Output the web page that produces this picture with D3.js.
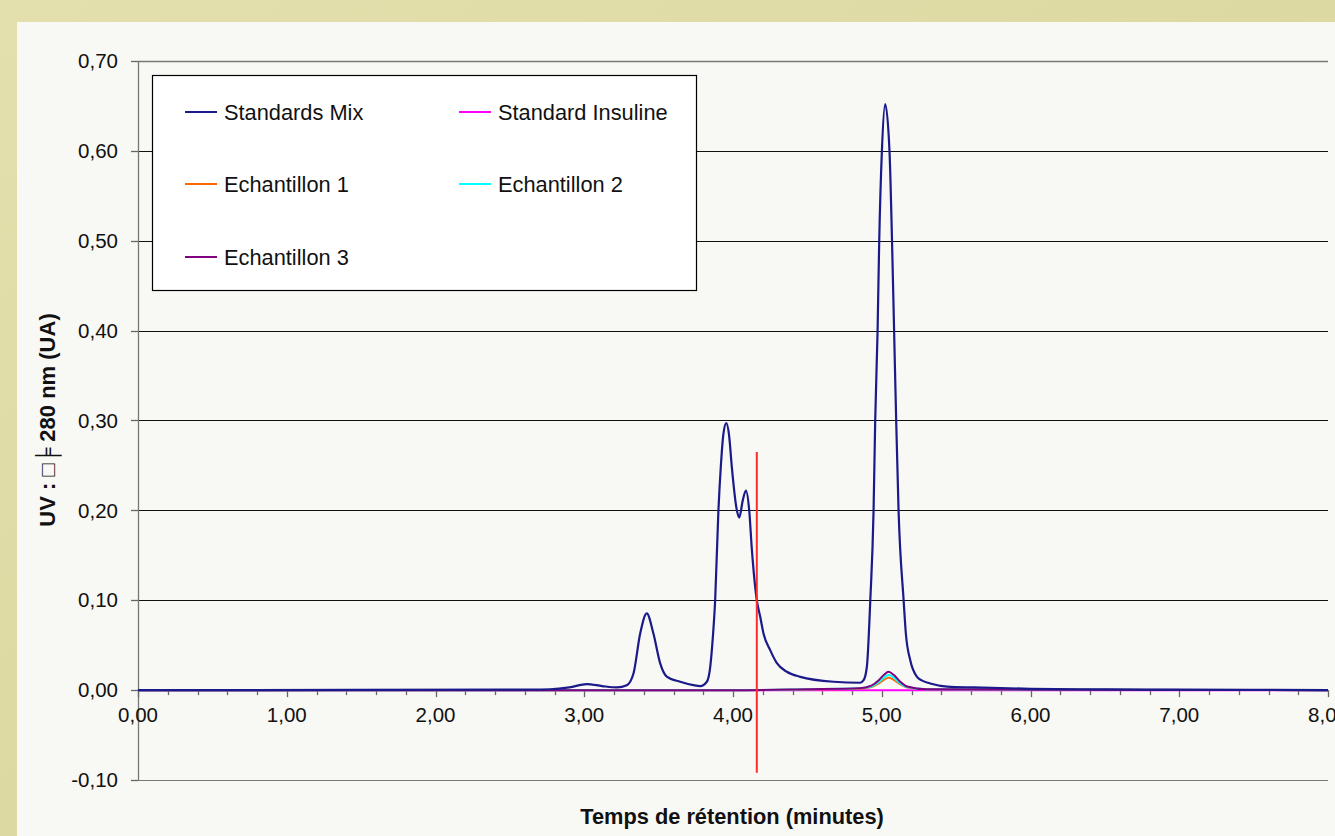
<!DOCTYPE html>
<html>
<head>
<meta charset="utf-8">
<script src="https://cdn.jsdelivr.net/npm/d3@7"></script>
<style>
  html, body { margin: 0; padding: 0; background: #e2dfac; }
  svg { display: block; }
  text { font-family: "Liberation Sans", Arial, sans-serif; fill: #111; }
</style>
</head>
<body>
<svg id="chart" width="1335" height="836"></svg>
<script>
// ---------- DATA ----------
const seriesNames = ["Standards Mix", "Standard Insuline", "Echantillon 1", "Echantillon 2", "Echantillon 3"];
const seriesColors = ["#1a1a8a", "#ff00ff", "#ff6a00", "#00ffff", "#800080"];

const mixTime = [0, 2.5, 2.77, 2.9, 3.017, 3.12, 3.22, 3.286, 3.331, 3.376,
  3.42, 3.465, 3.51, 3.555, 3.645, 3.734, 3.78, 3.824, 3.847, 3.865,
  3.88, 3.902, 3.918, 3.936, 3.955, 3.974, 3.992, 4.026, 4.042, 4.066,
  4.087, 4.109, 4.127, 4.16, 4.183, 4.205, 4.25, 4.295, 4.362, 4.452,
  4.676, 4.855, 4.878, 4.90, 4.923, 4.945, 4.956, 4.972, 4.983, 5.001,
  5.023, 5.052, 5.069, 5.083, 5.097, 5.113, 5.147, 5.162, 5.192, 5.237,
  5.28, 5.326, 5.44, 5.62, 6.0, 6.5, 7.0, 8.0];
const mixValue = [0, 0.0005, 0.001, 0.003, 0.0067, 0.0045, 0.003, 0.0055, 0.0185, 0.063,
  0.0854, 0.063, 0.030, 0.015, 0.0093, 0.0055, 0.0045, 0.0093, 0.026, 0.06,
  0.10, 0.20, 0.2485, 0.2857, 0.297, 0.283, 0.2485, 0.20, 0.192, 0.2114,
  0.222, 0.20, 0.156, 0.10, 0.0816, 0.063, 0.0445, 0.030, 0.0204, 0.0148,
  0.0093, 0.0082, 0.011, 0.026, 0.10, 0.20, 0.30, 0.40, 0.50, 0.60,
  0.652, 0.60, 0.50, 0.40, 0.30, 0.20, 0.10, 0.063, 0.033, 0.0148,
  0.010, 0.0074, 0.004, 0.003, 0.0015, 0.0008, 0.0005, 0];

const sampleTime = [0, 4.0, 4.5, 4.85, 4.93, 4.98, 5.015, 5.046, 5.08, 5.12, 5.17, 5.3, 6.0, 8.0];
const insulineValue = [0, 0, 0, 0, 0, 0, 0, 0, 0, 0, 0, 0, 0, 0];
const ech1Value = [0, 0, 0.0008, 0.0015, 0.0035, 0.0075, 0.0115, 0.0137, 0.0115, 0.0068, 0.003, 0.001, 0.0005, 0];
const ech2Value = [0, 0, 0.001, 0.002, 0.004, 0.009, 0.014, 0.0167, 0.014, 0.008, 0.0035, 0.001, 0.0005, 0];
const ech3Value = [0, 0, 0.001, 0.002, 0.005, 0.011, 0.017, 0.0204, 0.017, 0.010, 0.004, 0.001, 0.0005, 0];

const markerTime = 4.16;
const markerRange = [0.265, -0.092];

const yTicks = [-0.10, 0, 0.10, 0.20, 0.30, 0.40, 0.50, 0.60, 0.70];
const xTicks = [0, 1, 2, 3, 4, 5, 6, 7, 8];
const xMinorTicks = d3.range(0, 8.0001, 0.2);

const xTitle = "Temps de rétention (minutes)";
const yTitle = "UV : \u25A1\u255E 280 nm (UA)";

// ---------- LAYOUT ----------
const svg = d3.select("#chart");
const W = 1335, H = 836;
const plot = { left: 138, right: 1328, top: 61, bottom: 780 };

const locale = d3.formatLocale({ decimal: ",", thousands: " ", grouping: [3], currency: ["", "€"], minus: "-" });
const fmt = locale.format(".2f");

const x = d3.scaleLinear().domain([0, 8]).range([plot.left, plot.right]);
const y = d3.scaleLinear().domain([-0.10, 0.70]).range([plot.bottom, plot.top]);

// background
const defs = svg.append("defs");
const bg = defs.append("linearGradient").attr("id", "bg").attr("x1", 0).attr("y1", 0).attr("x2", 1).attr("y2", 1);
bg.append("stop").attr("offset", "0%").attr("stop-color", "#e4e0ae");
bg.append("stop").attr("offset", "50%").attr("stop-color", "#dcd9a2");
bg.append("stop").attr("offset", "100%").attr("stop-color", "#e6e2b4");
svg.append("rect").attr("width", W).attr("height", H).attr("fill", "url(#bg)");
svg.append("rect").attr("x", 17).attr("y", 22).attr("width", W - 17).attr("height", H - 22).attr("fill", "#f8f8f4");

// gridlines
svg.append("g").selectAll("line").data(yTicks).join("line")
  .attr("x1", plot.left).attr("x2", plot.right)
  .attr("y1", d => Math.round(y(d)) + 0.5).attr("y2", d => Math.round(y(d)) + 0.5)
  .attr("stroke", d => (d > 0.65 || d < -0.05 || d === 0) ? "#777" : "#111")
  .attr("stroke-width", d => (d > 0.65) ? 1.6 : 1.1);

// y axis line
svg.append("line").attr("x1", plot.left + 0.5).attr("x2", plot.left + 0.5)
  .attr("y1", plot.top).attr("y2", plot.bottom).attr("stroke", "#777").attr("stroke-width", 1.3);

// y ticks + labels
const yAxis = svg.append("g");
yAxis.selectAll("line").data(yTicks).join("line")
  .attr("x1", plot.left - 7).attr("x2", plot.left)
  .attr("y1", d => Math.round(y(d)) + 0.5).attr("y2", d => Math.round(y(d)) + 0.5)
  .attr("stroke", "#666").attr("stroke-width", 1.3);
yAxis.selectAll("text").data(yTicks).join("text")
  .attr("x", 118).attr("y", d => y(d)).attr("dy", "0.35em")
  .attr("text-anchor", "end").attr("font-size", 20.5)
  .text(d => fmt(d));

// x ticks (at y=0)
const xAxis = svg.append("g");
xAxis.selectAll("line.minor").data(xMinorTicks).join("line")
  .attr("class", "minor")
  .attr("x1", d => Math.round(x(d)) + 0.5).attr("x2", d => Math.round(x(d)) + 0.5)
  .attr("y1", y(0)).attr("y2", d => y(0) + (Math.abs(d - Math.round(d)) < 1e-6 ? 7 : 5))
  .attr("stroke", "#666").attr("stroke-width", 1.3);
xAxis.selectAll("text").data(xTicks).join("text")
  .attr("x", d => x(d)).attr("y", y(0) + 32)
  .attr("text-anchor", "middle").attr("font-size", 20.5)
  .text(d => fmt(d));

// series
const line = d3.line().x(d => x(d[0])).y(d => y(d[1])).curve(d3.curveMonotoneX);
const zip = (t, v) => t.map((tt, i) => [tt, v[i]]);
const seriesData = [
  zip(mixTime, mixValue),
  zip(sampleTime, insulineValue),
  zip(sampleTime, ech1Value),
  zip(sampleTime, ech2Value),
  zip(sampleTime, ech3Value)
];
const drawOrder = [1, 2, 3, 4, 0];
svg.append("g").selectAll("path").data(drawOrder).join("path")
  .attr("d", i => line(seriesData[i]))
  .attr("fill", "none")
  .attr("stroke", i => seriesColors[i])
  .attr("stroke-width", i => i === 0 ? 2.2 : 2)
  .attr("stroke-linejoin", "round");

// red marker
svg.append("line")
  .attr("x1", x(markerTime)).attr("x2", x(markerTime))
  .attr("y1", y(markerRange[0])).attr("y2", y(markerRange[1]))
  .attr("stroke", "#ff2a2a").attr("stroke-width", 2);

// legend
const lg = svg.append("g");
lg.append("rect").attr("x", 152.5).attr("y", 75.5).attr("width", 544).attr("height", 215)
  .attr("fill", "#ffffff").attr("stroke", "#000").attr("stroke-width", 1.2);
const legendPos = [[185, 112], [459, 112], [185, 184], [459, 184], [185, 257]];
seriesNames.forEach((name, i) => {
  const [lx, ly] = legendPos[i];
  lg.append("line").attr("x1", lx).attr("x2", lx + 32).attr("y1", ly).attr("y2", ly)
    .attr("stroke", seriesColors[i]).attr("stroke-width", 2);
  lg.append("text").attr("x", lx + 39).attr("y", ly).attr("dy", "0.36em")
    .attr("font-size", 21.8).text(name);
});

// titles
svg.append("text").attr("x", 732).attr("y", 816).attr("dy", "0.35em")
  .attr("text-anchor", "middle").attr("font-size", 21.8).attr("font-weight", "bold")
  .text(xTitle);
svg.append("text").attr("transform", "translate(47,420) rotate(-90)")
  .attr("dy", "0.35em").attr("text-anchor", "middle")
  .attr("font-size", 22).attr("font-weight", "bold")
  .text(yTitle);
</script>
</body>
</html>
